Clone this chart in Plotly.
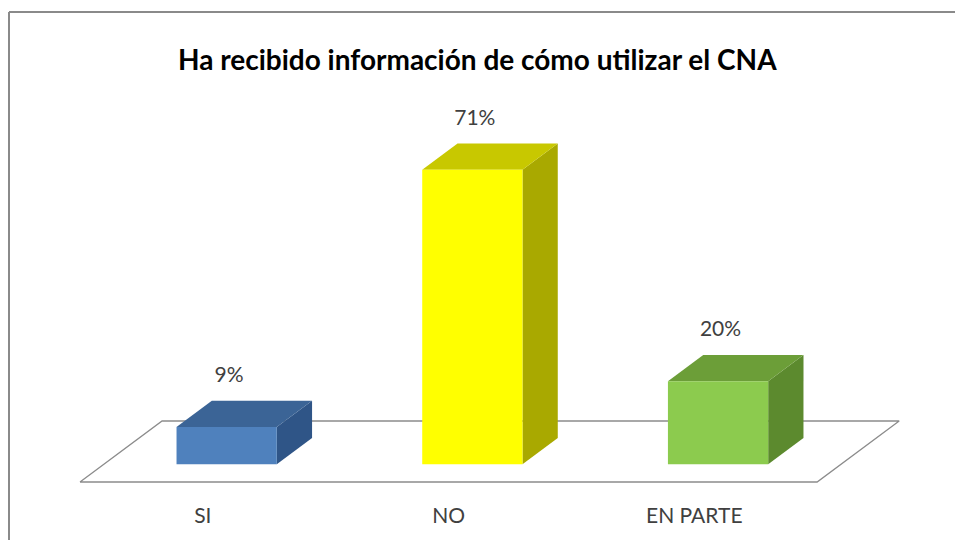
import plotly.graph_objects as go

# data
categories = ['SI', 'NO', 'EN PARTE']
values = [9, 71, 20]
value_labels = ['9%', '71%', '20%']

front_colors = ['#4F81BD', '#FFFF00', '#8CCB4E']
top_colors = ['#3B6496', '#C8C800', '#6C9E38']
side_colors = ['#2F5587', '#A9A900', '#5C8A2E']

FONT = 'Lato, Liberation Sans, sans-serif'

# pseudo-3d geometry (x in category units, y in percent units)
DX, DY = 0.334, 14.7      # offset of the full floor depth
D0, D1 = 0.29, 0.72       # depth span of the bars
HALF = 0.204              # half bar width


def proj(x, v, d):
    return x + d * DX, v + d * DY


def face(pts, color):
    xs, ys = zip(*pts)
    return go.Scatter(x=list(xs) + [xs[0]], y=list(ys) + [ys[0]], mode='lines',
                      fill='toself', fillcolor=color, line=dict(width=0),
                      hoverinfo='skip', showlegend=False)


fig = go.Figure()

# floor
floor = [proj(-0.5, 0, 0), proj(2.5, 0, 0), proj(2.5, 0, 1), proj(-0.5, 0, 1)]
fig.add_trace(go.Scatter(x=[p[0] for p in floor] + [floor[0][0]],
                         y=[p[1] for p in floor] + [floor[0][1]],
                         mode='lines', line=dict(color='#8C8C8C', width=1.3),
                         hoverinfo='skip', showlegend=False))

for i, (v, fc, tc, sc) in enumerate(zip(values, front_colors, top_colors, side_colors)):
    l, r = i - HALF, i + HALF
    side = [proj(r, 0, D0), proj(r, 0, D1), proj(r, v, D1), proj(r, v, D0)]
    top = [proj(l, v, D0), proj(r, v, D0), proj(r, v, D1), proj(l, v, D1)]
    front = [proj(l, 0, D0), proj(r, 0, D0), proj(r, v, D0), proj(l, v, D0)]
    fig.add_trace(face(side, sc))
    fig.add_trace(face(top, tc))
    fig.add_trace(face(front, fc))

# value labels
lx = [proj(i, v, D0)[0] + 0.01 for i, v in enumerate(values)]
ly = [proj(i, v, D1)[1] + 5.8 for i, v in enumerate(values)]
fig.add_trace(go.Scatter(x=lx, y=ly, mode='text', text=value_labels,
                         textfont=dict(family=FONT, size=21, color='#404040'),
                         hoverinfo='skip', showlegend=False))

# category labels
fig.add_trace(go.Scatter(x=list(range(len(categories))), y=[-8.7] * len(categories),
                         mode='text', text=categories,
                         textfont=dict(family=FONT, size=21, color='#404040'),
                         hoverinfo='skip', showlegend=False))

fig.update_xaxes(visible=False, range=[-0.8256, 3.0612], fixedrange=True)
fig.update_yaxes(visible=False, range=[-13.98, 116.14], fixedrange=True)

fig.update_layout(
    width=955, height=540,
    margin=dict(l=0, r=0, t=0, b=0),
    plot_bgcolor='#fff',
    paper_bgcolor='#fff',
    annotations=[dict(text='<b>Ha recibido información de cómo utilizar el CNA</b>',
                      x=0.5, y=1 - 59 / 540, xref='paper', yref='paper',
                      yanchor='middle', showarrow=False,
                      font=dict(family=FONT, size=28, color='#000'))],
    shapes=[
        dict(type='line', xref='paper', yref='paper', x0=9 / 955, x1=1, y0=1 - 12 / 540, y1=1 - 12 / 540,
             line=dict(color='#8A8A8A', width=2)),
        dict(type='line', xref='paper', yref='paper', x0=9 / 955, x1=9 / 955, y0=0, y1=1 - 12 / 540,
             line=dict(color='#8A8A8A', width=2)),
    ],
)

fig.write_html("out.html", config={'displayModeBar': False},
               post_script="document.body.style.margin='0';")
